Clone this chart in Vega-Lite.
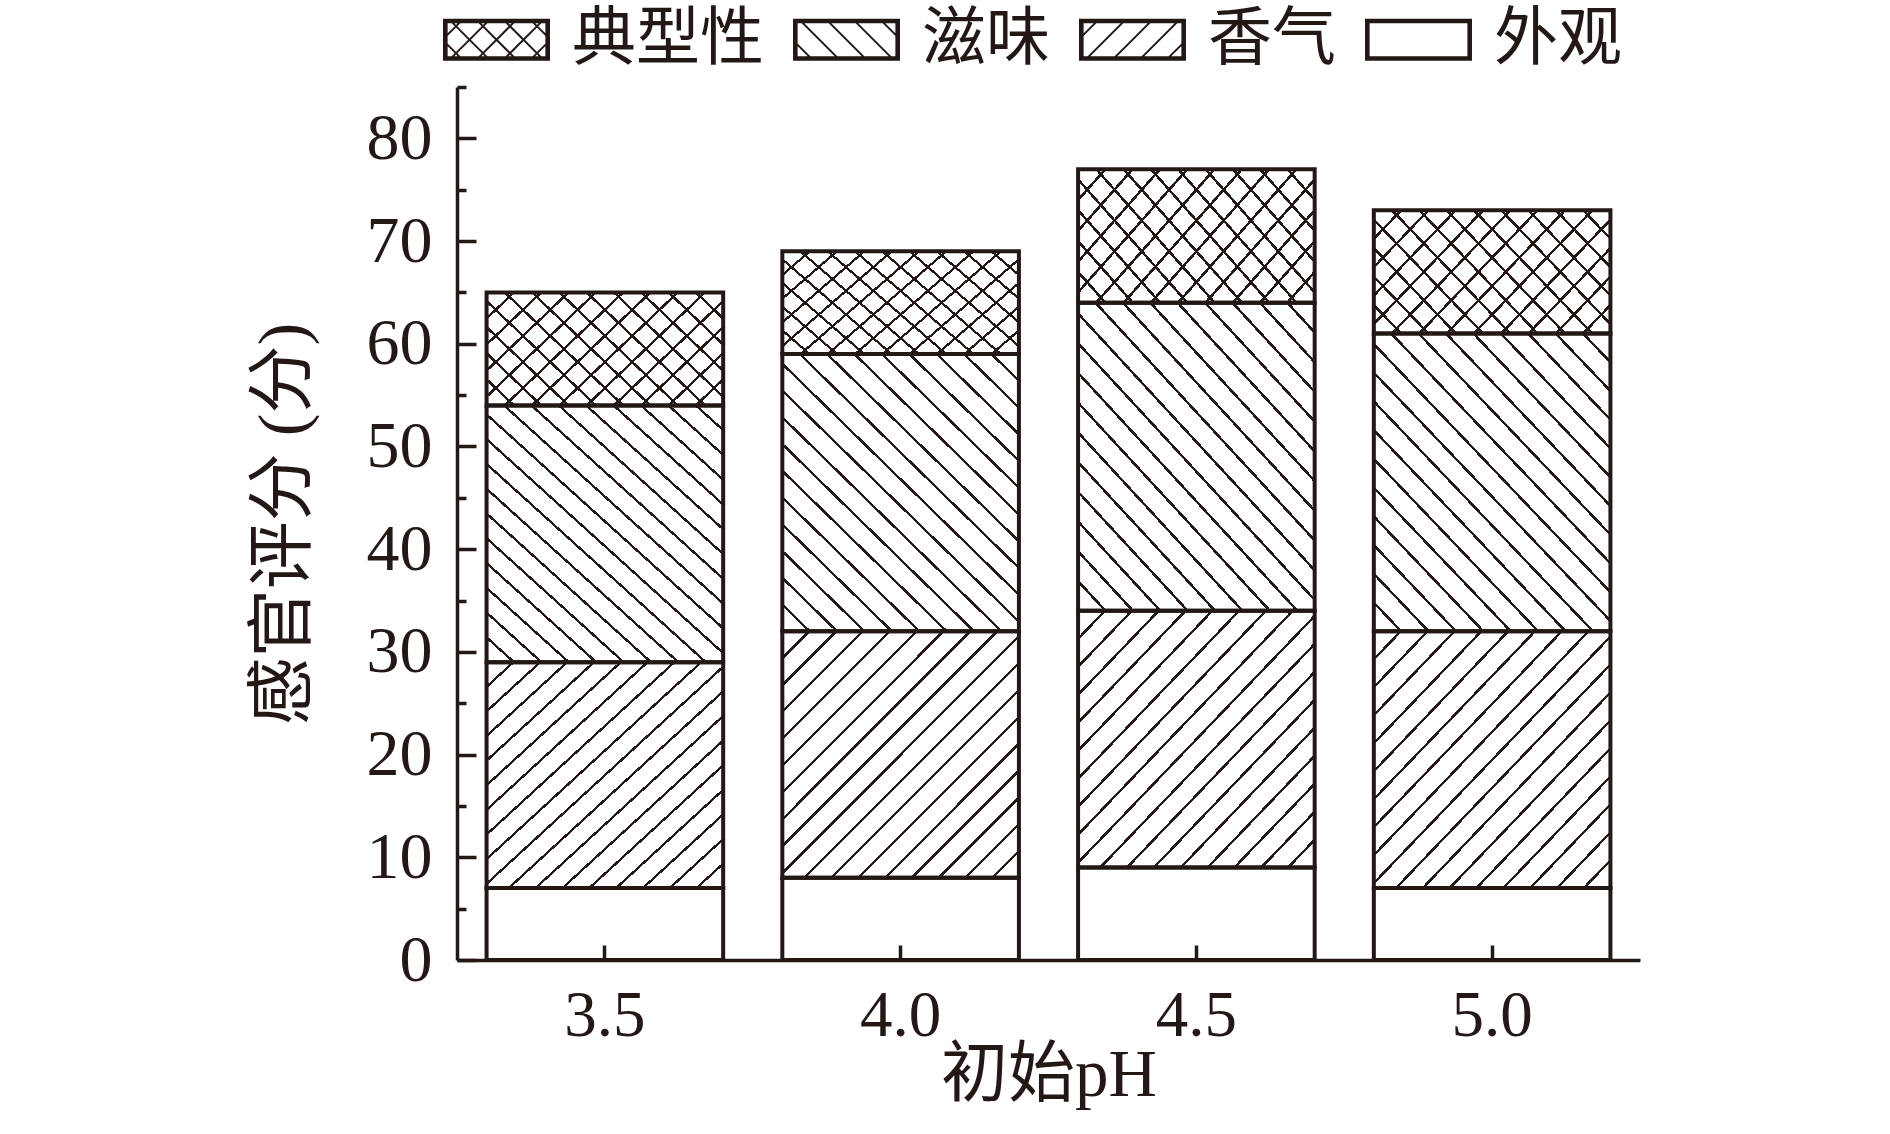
{
  "$schema": "https://vega.github.io/schema/vega-lite/v6.json",
  "width": 1183,
  "height": 873,
  "autosize": {"type": "none"},
  "padding": {"left": 457, "top": 87, "right": 250, "bottom": 174},
  "background": "white",
  "config": {"view": {"stroke": null}, "axis": {"grid": false}},
  "data": {"values": [
    {"ph": "3.5", "cat": "外观", "score": 7},
    {"ph": "3.5", "cat": "香气", "score": 22},
    {"ph": "3.5", "cat": "滋味", "score": 25},
    {"ph": "3.5", "cat": "典型性", "score": 11},
    {"ph": "4.0", "cat": "外观", "score": 8},
    {"ph": "4.0", "cat": "香气", "score": 24},
    {"ph": "4.0", "cat": "滋味", "score": 27},
    {"ph": "4.0", "cat": "典型性", "score": 10},
    {"ph": "4.5", "cat": "外观", "score": 9},
    {"ph": "4.5", "cat": "香气", "score": 25},
    {"ph": "4.5", "cat": "滋味", "score": 30},
    {"ph": "4.5", "cat": "典型性", "score": 13},
    {"ph": "5.0", "cat": "外观", "score": 7},
    {"ph": "5.0", "cat": "香气", "score": 25},
    {"ph": "5.0", "cat": "滋味", "score": 29},
    {"ph": "5.0", "cat": "典型性", "score": 12}
  ]},
  "transform": [
    {"calculate": "indexof(['外观','香气','滋味','典型性'], datum.cat)", "as": "ord"},
    {"stack": "score", "groupby": ["ph"], "sort": [{"field": "ord", "order": "ascending"}], "as": ["s0", "s1"]}
  ],
  "resolve": {"axis": {"y": "independent"}},
  "encoding": {
    "x": {"field": "ph", "type": "ordinal", "scale": {"paddingInner": 0.2, "paddingOuter": 0.1},
      "axis": {"orient": "bottom", "title": "初始pH", "labelAngle": 0, "tickSize": -15, "tickWidth": 3.5, "tickColor": "#231815", "domainWidth": 3.5, "domainColor": "#231815", "labelFont": "Liberation Serif", "labelFontSize": 65, "labelColor": "#231815", "labelPadding": 39, "titleFont": "'Liberation Serif', 'Noto Sans CJK SC'", "titleFontSize": 67, "titleFontWeight": "normal", "titleColor": "#231815", "titlePadding": -6, "zindex": 1}},
    "y2": {"field": "s1"}
  },
  "layer": [
    {"mark": {"type": "bar", "fill": "white", "strokeWidth": 0},
     "encoding": {"y": {"field": "s0", "type": "quantitative", "scale": {"domain": [0, 85], "nice": false},
        "axis": {"orient": "left", "title": "感官评分 (分)", "values": [0, 10, 20, 30, 40, 50, 60, 70, 80], "tickSize": -19, "tickWidth": 3.5, "tickColor": "#231815", "domainWidth": 3.5, "domainColor": "#231815", "labelFont": "Liberation Serif", "labelFontSize": 66, "labelColor": "#231815", "labelPadding": 44, "titleFont": "'Liberation Serif', 'Noto Sans CJK SC'", "titleFontSize": 68, "titleFontWeight": "normal", "titleColor": "#231815", "titlePadding": 48, "zindex": 1}}}},
    {"transform": [{"filter": "datum.cat === '香气'"}],
     "encoding": {"y": {"field": "s0", "type": "quantitative", "scale": {"domain": [0, 85], "nice": false}, "axis": null}},
     "mark": {"type": "bar", "strokeWidth": 0, "fill": {"gradient": "linear", "x1": 0, "y1": 0, "x2": 0.98, "y2": 1.02, "stops": [
      {"offset": 0.0521, "color": "#fff"}, {"offset": 0.0521, "color": "#231815"}, {"offset": 0.0591, "color": "#231815"}, {"offset": 0.0591, "color": "#fff"},
      {"offset": 0.1076, "color": "#fff"}, {"offset": 0.1076, "color": "#231815"}, {"offset": 0.1146, "color": "#231815"}, {"offset": 0.1146, "color": "#fff"},
      {"offset": 0.1632, "color": "#fff"}, {"offset": 0.1632, "color": "#231815"}, {"offset": 0.1702, "color": "#231815"}, {"offset": 0.1702, "color": "#fff"},
      {"offset": 0.2187, "color": "#fff"}, {"offset": 0.2187, "color": "#231815"}, {"offset": 0.2257, "color": "#231815"}, {"offset": 0.2257, "color": "#fff"},
      {"offset": 0.2743, "color": "#fff"}, {"offset": 0.2743, "color": "#231815"}, {"offset": 0.2813, "color": "#231815"}, {"offset": 0.2813, "color": "#fff"},
      {"offset": 0.3298, "color": "#fff"}, {"offset": 0.3298, "color": "#231815"}, {"offset": 0.3368, "color": "#231815"}, {"offset": 0.3368, "color": "#fff"},
      {"offset": 0.3854, "color": "#fff"}, {"offset": 0.3854, "color": "#231815"}, {"offset": 0.3924, "color": "#231815"}, {"offset": 0.3924, "color": "#fff"},
      {"offset": 0.4409, "color": "#fff"}, {"offset": 0.4409, "color": "#231815"}, {"offset": 0.4479, "color": "#231815"}, {"offset": 0.4479, "color": "#fff"},
      {"offset": 0.4965, "color": "#fff"}, {"offset": 0.4965, "color": "#231815"}, {"offset": 0.5035, "color": "#231815"}, {"offset": 0.5035, "color": "#fff"},
      {"offset": 0.5521, "color": "#fff"}, {"offset": 0.5521, "color": "#231815"}, {"offset": 0.5591, "color": "#231815"}, {"offset": 0.5591, "color": "#fff"},
      {"offset": 0.6076, "color": "#fff"}, {"offset": 0.6076, "color": "#231815"}, {"offset": 0.6146, "color": "#231815"}, {"offset": 0.6146, "color": "#fff"},
      {"offset": 0.6632, "color": "#fff"}, {"offset": 0.6632, "color": "#231815"}, {"offset": 0.6702, "color": "#231815"}, {"offset": 0.6702, "color": "#fff"},
      {"offset": 0.7187, "color": "#fff"}, {"offset": 0.7187, "color": "#231815"}, {"offset": 0.7257, "color": "#231815"}, {"offset": 0.7257, "color": "#fff"},
      {"offset": 0.7743, "color": "#fff"}, {"offset": 0.7743, "color": "#231815"}, {"offset": 0.7813, "color": "#231815"}, {"offset": 0.7813, "color": "#fff"},
      {"offset": 0.8298, "color": "#fff"}, {"offset": 0.8298, "color": "#231815"}, {"offset": 0.8368, "color": "#231815"}, {"offset": 0.8368, "color": "#fff"},
      {"offset": 0.8854, "color": "#fff"}, {"offset": 0.8854, "color": "#231815"}, {"offset": 0.8924, "color": "#231815"}, {"offset": 0.8924, "color": "#fff"},
      {"offset": 0.9409, "color": "#fff"}, {"offset": 0.9409, "color": "#231815"}, {"offset": 0.9479, "color": "#231815"}, {"offset": 0.9479, "color": "#fff"}
     ]}}},
    {"transform": [{"filter": "datum.cat === '滋味'"}],
     "encoding": {"y": {"field": "s0", "type": "quantitative", "scale": {"domain": [0, 85], "nice": false}, "axis": null}},
     "mark": {"type": "bar", "strokeWidth": 0, "fill": {"gradient": "linear", "x1": 0, "y1": 1, "x2": 0.9016, "y2": -0.082, "stops": [
      {"offset": 0.0493, "color": "#fff"}, {"offset": 0.0493, "color": "#231815"}, {"offset": 0.0559, "color": "#231815"}, {"offset": 0.0559, "color": "#fff"},
      {"offset": 0.1020, "color": "#fff"}, {"offset": 0.1020, "color": "#231815"}, {"offset": 0.1086, "color": "#231815"}, {"offset": 0.1086, "color": "#fff"},
      {"offset": 0.1546, "color": "#fff"}, {"offset": 0.1546, "color": "#231815"}, {"offset": 0.1612, "color": "#231815"}, {"offset": 0.1612, "color": "#fff"},
      {"offset": 0.2072, "color": "#fff"}, {"offset": 0.2072, "color": "#231815"}, {"offset": 0.2138, "color": "#231815"}, {"offset": 0.2138, "color": "#fff"},
      {"offset": 0.2599, "color": "#fff"}, {"offset": 0.2599, "color": "#231815"}, {"offset": 0.2665, "color": "#231815"}, {"offset": 0.2665, "color": "#fff"},
      {"offset": 0.3125, "color": "#fff"}, {"offset": 0.3125, "color": "#231815"}, {"offset": 0.3191, "color": "#231815"}, {"offset": 0.3191, "color": "#fff"},
      {"offset": 0.3651, "color": "#fff"}, {"offset": 0.3651, "color": "#231815"}, {"offset": 0.3717, "color": "#231815"}, {"offset": 0.3717, "color": "#fff"},
      {"offset": 0.4178, "color": "#fff"}, {"offset": 0.4178, "color": "#231815"}, {"offset": 0.4244, "color": "#231815"}, {"offset": 0.4244, "color": "#fff"},
      {"offset": 0.4704, "color": "#fff"}, {"offset": 0.4704, "color": "#231815"}, {"offset": 0.4770, "color": "#231815"}, {"offset": 0.4770, "color": "#fff"},
      {"offset": 0.5230, "color": "#fff"}, {"offset": 0.5230, "color": "#231815"}, {"offset": 0.5296, "color": "#231815"}, {"offset": 0.5296, "color": "#fff"},
      {"offset": 0.5757, "color": "#fff"}, {"offset": 0.5757, "color": "#231815"}, {"offset": 0.5823, "color": "#231815"}, {"offset": 0.5823, "color": "#fff"},
      {"offset": 0.6283, "color": "#fff"}, {"offset": 0.6283, "color": "#231815"}, {"offset": 0.6349, "color": "#231815"}, {"offset": 0.6349, "color": "#fff"},
      {"offset": 0.6809, "color": "#fff"}, {"offset": 0.6809, "color": "#231815"}, {"offset": 0.6875, "color": "#231815"}, {"offset": 0.6875, "color": "#fff"},
      {"offset": 0.7335, "color": "#fff"}, {"offset": 0.7335, "color": "#231815"}, {"offset": 0.7401, "color": "#231815"}, {"offset": 0.7401, "color": "#fff"},
      {"offset": 0.7862, "color": "#fff"}, {"offset": 0.7862, "color": "#231815"}, {"offset": 0.7928, "color": "#231815"}, {"offset": 0.7928, "color": "#fff"},
      {"offset": 0.8388, "color": "#fff"}, {"offset": 0.8388, "color": "#231815"}, {"offset": 0.8454, "color": "#231815"}, {"offset": 0.8454, "color": "#fff"},
      {"offset": 0.8914, "color": "#fff"}, {"offset": 0.8914, "color": "#231815"}, {"offset": 0.8980, "color": "#231815"}, {"offset": 0.8980, "color": "#fff"},
      {"offset": 0.9441, "color": "#fff"}, {"offset": 0.9441, "color": "#231815"}, {"offset": 0.9507, "color": "#231815"}, {"offset": 0.9507, "color": "#fff"}
     ]}}},
    {"transform": [{"filter": "datum.cat === '典型性'"}],
     "encoding": {"y": {"field": "s0", "type": "quantitative", "scale": {"domain": [0, 85], "nice": false}, "axis": null}},
     "mark": {"type": "bar", "strokeWidth": 0, "fill": {"gradient": "linear", "x1": 0, "y1": 0, "x2": 1.2, "y2": 0.6, "stops": [
      {"offset": 0.0721, "color": "#fff"}, {"offset": 0.0721, "color": "#231815"}, {"offset": 0.0817, "color": "#231815"}, {"offset": 0.0817, "color": "#fff"},
      {"offset": 0.1490, "color": "#fff"}, {"offset": 0.1490, "color": "#231815"}, {"offset": 0.1586, "color": "#231815"}, {"offset": 0.1586, "color": "#fff"},
      {"offset": 0.2260, "color": "#fff"}, {"offset": 0.2260, "color": "#231815"}, {"offset": 0.2356, "color": "#231815"}, {"offset": 0.2356, "color": "#fff"},
      {"offset": 0.3029, "color": "#fff"}, {"offset": 0.3029, "color": "#231815"}, {"offset": 0.3125, "color": "#231815"}, {"offset": 0.3125, "color": "#fff"},
      {"offset": 0.3798, "color": "#fff"}, {"offset": 0.3798, "color": "#231815"}, {"offset": 0.3894, "color": "#231815"}, {"offset": 0.3894, "color": "#fff"},
      {"offset": 0.4567, "color": "#fff"}, {"offset": 0.4567, "color": "#231815"}, {"offset": 0.4663, "color": "#231815"}, {"offset": 0.4663, "color": "#fff"},
      {"offset": 0.5337, "color": "#fff"}, {"offset": 0.5337, "color": "#231815"}, {"offset": 0.5433, "color": "#231815"}, {"offset": 0.5433, "color": "#fff"},
      {"offset": 0.6106, "color": "#fff"}, {"offset": 0.6106, "color": "#231815"}, {"offset": 0.6202, "color": "#231815"}, {"offset": 0.6202, "color": "#fff"},
      {"offset": 0.6875, "color": "#fff"}, {"offset": 0.6875, "color": "#231815"}, {"offset": 0.6971, "color": "#231815"}, {"offset": 0.6971, "color": "#fff"},
      {"offset": 0.7644, "color": "#fff"}, {"offset": 0.7644, "color": "#231815"}, {"offset": 0.7740, "color": "#231815"}, {"offset": 0.7740, "color": "#fff"},
      {"offset": 0.8414, "color": "#fff"}, {"offset": 0.8414, "color": "#231815"}, {"offset": 0.8510, "color": "#231815"}, {"offset": 0.8510, "color": "#fff"},
      {"offset": 0.9183, "color": "#fff"}, {"offset": 0.9183, "color": "#231815"}, {"offset": 0.9279, "color": "#231815"}, {"offset": 0.9279, "color": "#fff"}
     ]}}},
    {"transform": [{"filter": "datum.cat === '典型性'"}],
     "encoding": {"y": {"field": "s0", "type": "quantitative", "scale": {"domain": [0, 85], "nice": false}, "axis": null}},
     "mark": {"type": "bar", "strokeWidth": 0, "fill": {"gradient": "linear", "x1": 0, "y1": 1, "x2": 1.2, "y2": 0.4, "stops": [
      {"offset": 0.0721, "color": "rgba(255,255,255,0)"}, {"offset": 0.0721, "color": "#231815"}, {"offset": 0.0817, "color": "#231815"}, {"offset": 0.0817, "color": "rgba(255,255,255,0)"},
      {"offset": 0.1490, "color": "rgba(255,255,255,0)"}, {"offset": 0.1490, "color": "#231815"}, {"offset": 0.1586, "color": "#231815"}, {"offset": 0.1586, "color": "rgba(255,255,255,0)"},
      {"offset": 0.2260, "color": "rgba(255,255,255,0)"}, {"offset": 0.2260, "color": "#231815"}, {"offset": 0.2356, "color": "#231815"}, {"offset": 0.2356, "color": "rgba(255,255,255,0)"},
      {"offset": 0.3029, "color": "rgba(255,255,255,0)"}, {"offset": 0.3029, "color": "#231815"}, {"offset": 0.3125, "color": "#231815"}, {"offset": 0.3125, "color": "rgba(255,255,255,0)"},
      {"offset": 0.3798, "color": "rgba(255,255,255,0)"}, {"offset": 0.3798, "color": "#231815"}, {"offset": 0.3894, "color": "#231815"}, {"offset": 0.3894, "color": "rgba(255,255,255,0)"},
      {"offset": 0.4567, "color": "rgba(255,255,255,0)"}, {"offset": 0.4567, "color": "#231815"}, {"offset": 0.4663, "color": "#231815"}, {"offset": 0.4663, "color": "rgba(255,255,255,0)"},
      {"offset": 0.5337, "color": "rgba(255,255,255,0)"}, {"offset": 0.5337, "color": "#231815"}, {"offset": 0.5433, "color": "#231815"}, {"offset": 0.5433, "color": "rgba(255,255,255,0)"},
      {"offset": 0.6106, "color": "rgba(255,255,255,0)"}, {"offset": 0.6106, "color": "#231815"}, {"offset": 0.6202, "color": "#231815"}, {"offset": 0.6202, "color": "rgba(255,255,255,0)"},
      {"offset": 0.6875, "color": "rgba(255,255,255,0)"}, {"offset": 0.6875, "color": "#231815"}, {"offset": 0.6971, "color": "#231815"}, {"offset": 0.6971, "color": "rgba(255,255,255,0)"},
      {"offset": 0.7644, "color": "rgba(255,255,255,0)"}, {"offset": 0.7644, "color": "#231815"}, {"offset": 0.7740, "color": "#231815"}, {"offset": 0.7740, "color": "rgba(255,255,255,0)"},
      {"offset": 0.8414, "color": "rgba(255,255,255,0)"}, {"offset": 0.8414, "color": "#231815"}, {"offset": 0.8510, "color": "#231815"}, {"offset": 0.8510, "color": "rgba(255,255,255,0)"},
      {"offset": 0.9183, "color": "rgba(255,255,255,0)"}, {"offset": 0.9183, "color": "#231815"}, {"offset": 0.9279, "color": "#231815"}, {"offset": 0.9279, "color": "rgba(255,255,255,0)"}
     ]}}},
    {"mark": {"type": "bar", "fill": "transparent", "strokeWidth": 4, "strokeJoin": "miter"},
     "encoding": {
       "y": {"field": "s0", "type": "quantitative", "scale": {"domain": [0, 85], "nice": false}, "axis": null},
       "stroke": {"field": "cat", "type": "nominal",
         "scale": {"domain": ["典型性", "滋味", "香气", "外观"], "range": ["#231815", "#231815", "#231815", "#231815"]},
         "legend": {"title": null, "orient": "none", "direction": "horizontal", "legendX": -14, "legendY": -101,
           "symbolSize": 11025, "labelFont": "Noto Sans CJK SC", "labelFontSize": 64, "labelColor": "#231815", "labelLimit": 600,
           "labelOffset": 22, "columnPadding": 26, "padding": 0, "symbolStrokeWidth": 2,
           "encoding": {"symbols": {
             "shape": {"condition": [
               {"test": "datum.value === '典型性'", "value": "M-1,-0.381L1,-0.381L1,0.381L-1,0.381ZM-0.95,-0.331L-0.95,0.331L0.95,0.331L0.95,-0.331ZM-0.331,0.331L0.331,-0.331M0.183,0.331L0.845,-0.331M0.697,0.331L0.95,0.078M-0.845,0.331L-0.183,-0.331M-0.95,-0.078L-0.697,-0.331M0.331,0.331L-0.331,-0.331M0.845,0.331L0.183,-0.331M0.95,-0.078L0.697,-0.331M-0.183,0.331L-0.845,-0.331M-0.697,0.331L-0.95,0.078"},
               {"test": "datum.value === '滋味'", "value": "M-1,-0.381L1,-0.381L1,0.381L-1,0.381ZM-0.95,-0.331L-0.95,0.331L0.95,0.331L0.95,-0.331ZM0.331,0.331L-0.331,-0.331M0.845,0.331L0.183,-0.331M0.95,-0.078L0.697,-0.331M-0.183,0.331L-0.845,-0.331M-0.697,0.331L-0.95,0.078"},
               {"test": "datum.value === '香气'", "value": "M-1,-0.381L1,-0.381L1,0.381L-1,0.381ZM-0.95,-0.331L-0.95,0.331L0.95,0.331L0.95,-0.331ZM-0.331,0.331L0.331,-0.331M0.183,0.331L0.845,-0.331M0.697,0.331L0.95,0.078M-0.845,0.331L-0.183,-0.331M-0.95,-0.078L-0.697,-0.331"}
             ], "value": "M-1,-0.381L1,-0.381L1,0.381L-1,0.381ZM-0.95,-0.331L-0.95,0.331L0.95,0.331L0.95,-0.331Z"},
             "size": {"value": 11025},
             "fill": {"value": "#231815"},
             "fillOpacity": {"value": 1},
             "stroke": {"value": "#231815"},
             "strokeWidth": {"value": 2},
             "opacity": {"value": 1}
           }}
         }}
     }},
    {"mark": {"type": "bar", "opacity": 0},
     "encoding": {
       "y": {"field": "s0", "type": "quantitative", "scale": {"domain": [0, 85], "nice": false},
         "axis": {"orient": "left", "values": [5, 15, 25, 35, 45, 55, 65, 75, 85], "tickSize": -9, "tickWidth": 3.5, "tickColor": "#231815", "labels": false, "domain": false, "title": null, "zindex": 1}}
     }}
  ]
}
